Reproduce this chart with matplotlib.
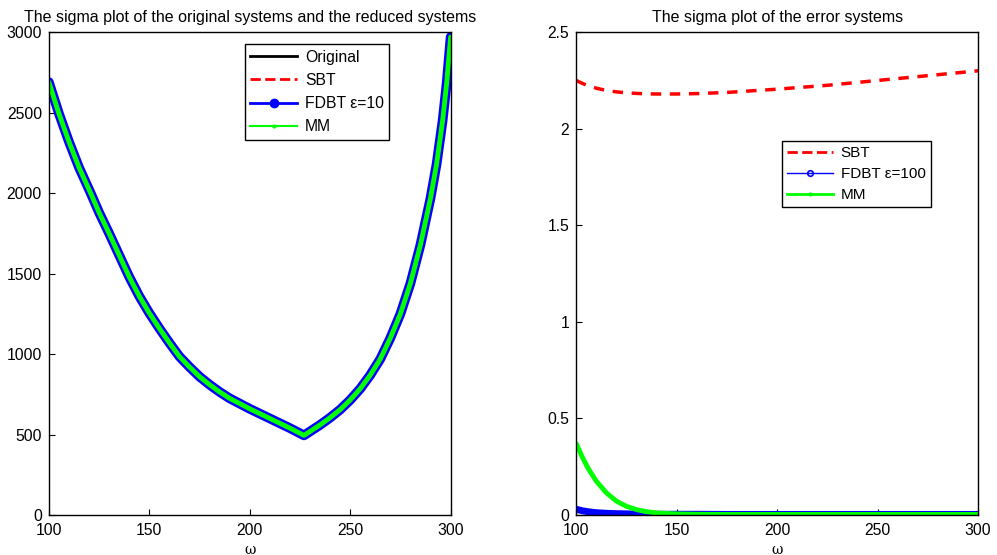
import numpy as np
from matplotlib import pyplot as plt
from matplotlib.lines import Line2D

plt.rcParams['font.family'] = ['Liberation Sans', 'DejaVu Sans']
plt.rcParams['font.size'] = 11.3

# sigma values of the original / reduced systems
omega = [100, 105, 110, 115, 121, 125, 130, 135, 140, 145, 150, 155, 160, 165,
         170, 175, 180, 185, 190, 200, 210, 220, 227, 235, 240, 245, 250, 255,
         260, 265, 270, 275, 280, 285, 290, 293, 296, 298, 300]
sigma_orig = [2690, 2495, 2320, 2160, 1995, 1880, 1750, 1615, 1480, 1360, 1255,
              1160, 1070, 985, 920, 860, 810, 765, 725, 660, 600, 540, 495, 560,
              605, 655, 715, 785, 870, 970, 1100, 1250, 1440, 1680, 1970, 2180,
              2450, 2680, 2970]
sigma_sbt = sigma_orig
sigma_fdbt = sigma_orig
sigma_mm = sigma_orig

# sigma values of the error systems
omega_err = [100, 103, 106, 110, 115, 120, 125, 130, 135, 140, 150, 160, 175,
             200, 225, 250, 275, 300]
err_sbt = [2.25, 2.235, 2.222, 2.210, 2.198, 2.191, 2.186, 2.183, 2.181, 2.180,
           2.180, 2.182, 2.188, 2.205, 2.225, 2.25, 2.275, 2.30]
err_fdbt = [0.03, 0.022, 0.017, 0.012, 0.009, 0.007, 0.006, 0.005, 0.005, 0.004,
            0.004, 0.004, 0.003, 0.003, 0.003, 0.003, 0.003, 0.003]
err_mm = [0.37, 0.30, 0.24, 0.175, 0.115, 0.072, 0.045, 0.028, 0.017, 0.011,
          0.006, 0.004, 0.003, 0.003, 0.003, 0.003, 0.003, 0.003]

fig = plt.figure(figsize=(9.97, 5.55), dpi=100)
ax1 = fig.add_axes([0.049, 0.072, 0.403, 0.870])
ax2 = fig.add_axes([0.578, 0.072, 0.403, 0.870])

# left: original and reduced systems
ax1.plot(omega, sigma_orig, color='black', lw=2)
ax1.plot(omega, sigma_sbt, color='red', lw=2, ls='--')
ax1.plot(omega, sigma_fdbt, color='blue', lw=7, solid_capstyle='round',
         solid_joinstyle='round')
ax1.plot(omega, sigma_mm, color='#00ff00', lw=3.5, solid_capstyle='round',
         solid_joinstyle='round')
ax1.set_xlim(100, 300)
ax1.set_ylim(0, 3000)
ax1.set_xticks([100, 150, 200, 250, 300])
ax1.set_yticks(np.arange(0, 3001, 500))
ax1.set_title('The sigma plot of the original systems and the reduced systems',
              fontsize=11.5, pad=7)
ax1.set_xlabel('ω', family='DejaVu Serif', fontsize=10, labelpad=3)

h1 = [Line2D([], [], color='black', lw=2),
      Line2D([], [], color='red', lw=2, ls='--'),
      Line2D([], [], color='blue', lw=2, marker='o', ms=6),
      Line2D([], [], color='#00ff00', lw=1.5, marker='.', ms=4)]
ax1.legend(h1, ['Original', 'SBT', 'FDBT ε=10', 'MM'], loc='upper left',
           bbox_to_anchor=(0.487, 0.975), fancybox=False, edgecolor='black',
           framealpha=1, handlelength=3.0, borderpad=0.35, labelspacing=0.52,
           handletextpad=0.5, borderaxespad=0)

# right: error systems
ax2.plot(omega_err, err_sbt, color='red', lw=2.5, ls='--', dashes=(3, 2.5))
ax2.plot(omega_err, err_fdbt, color='blue', lw=5, solid_capstyle='round')
ax2.plot(omega_err, err_mm, color='#00ff00', lw=3.5, solid_capstyle='round')
ax2.set_xlim(100, 300)
ax2.set_ylim(0, 2.5)
ax2.set_xticks([100, 150, 200, 250, 300])
ax2.set_yticks([0, 0.5, 1, 1.5, 2, 2.5])
ax2.set_yticklabels(['0', '0.5', '1', '1.5', '2', '2.5'])
ax2.set_title('The sigma plot of the error systems', fontsize=11.5, pad=7)
ax2.set_xlabel('ω', family='DejaVu Serif', fontsize=10, labelpad=3)

h2 = [Line2D([], [], color='red', lw=2, ls='--'),
      Line2D([], [], color='blue', lw=1, marker='o', ms=4, mfc='none', mew=1.2),
      Line2D([], [], color='#00ff00', lw=2, marker='.', ms=4)]
ax2.legend(h2, ['SBT', 'FDBT ε=100', 'MM'], loc='upper left',
           bbox_to_anchor=(0.512, 0.775), fancybox=False, edgecolor='black',
           framealpha=1, handlelength=3.0, borderpad=0.35, labelspacing=0.45,
           handletextpad=0.5, borderaxespad=0, fontsize=11)

for ax in (ax1, ax2):
    ax.tick_params(direction='in', length=4, width=0.8, top=False, right=False)
    ax.tick_params(axis='x', pad=6)
    ax.tick_params(axis='y', pad=5)
    for s in ax.spines.values():
        s.set_linewidth(1)

plt.savefig('out.png', dpi=100)
